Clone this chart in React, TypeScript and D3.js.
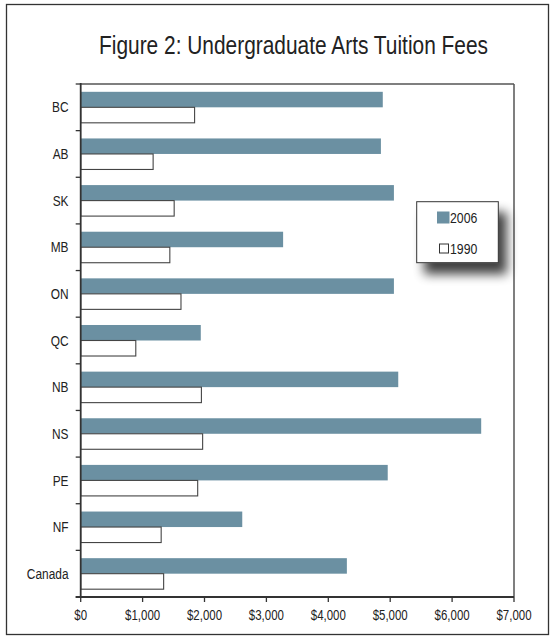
import React, { useEffect } from "react";
import * as d3 from "d3";

const categories = ["BC", "AB", "SK", "MB", "ON", "QC", "NB", "NS", "PE", "NF", "Canada"];
const fees2006 = [4880, 4850, 5060, 3270, 5060, 1940, 5130, 6470, 4960, 2610, 4300];
const fees1990 = [1840, 1170, 1510, 1440, 1620, 890, 1950, 1970, 1890, 1300, 1340];
const seriesNames = ["2006", "1990"];
const xTicks = [0, 1000, 2000, 3000, 4000, 5000, 6000, 7000];
const title = "Figure 2: Undergraduate Arts Tuition Fees";

const W = 556;
const H = 639;
const FONT = "'Liberation Sans', Arial, sans-serif";
const BLUE = "#6b90a2";
const NARROW = 0.82;

function NText(props: {
  x: number;
  y: number;
  size: number;
  anchor?: "start" | "middle" | "end";
  dy?: string;
  fill?: string;
  children: React.ReactNode;
}) {
  const { x, y, size, anchor = "start", dy = "0.35em", fill = "#222", children } = props;
  return (
    <text
      transform={`translate(${x},${y}) scale(${NARROW},1)`}
      textAnchor={anchor}
      fontSize={size}
      dy={dy}
      fill={fill}
    >
      {children}
    </text>
  );
}

export default function App() {
  useEffect(() => {
    document.body.style.margin = "0";
  }, []);

  const plot = { left: 80.7, right: 514, top: 84, bottom: 597 };
  const x = d3.scaleLinear().domain([0, 7000]).range([plot.left, plot.right]);
  const y = d3
    .scaleBand<string>()
    .domain(categories)
    .range([plot.top, plot.bottom])
    .paddingInner(0.335)
    .paddingOuter(0.1675);
  const inner = d3.scaleBand<string>().domain(seriesNames).range([0, y.bandwidth()]);
  const fmt = (v: number) => "$" + d3.format(",")(v);
  const step = y.step();
  const boundaries = d3.range(categories.length + 1).map((i) => plot.top + i * step);

  return (
    <svg width={W} height={H} style={{ display: "block" }} fontFamily={FONT}>
      <defs>
        <filter id="shadow" x="-30%" y="-30%" width="180%" height="200%">
          <feGaussianBlur in="SourceAlpha" stdDeviation="5.5" />
          <feOffset dx="8" dy="11" result="b" />
          <feComponentTransfer>
            <feFuncA type="linear" slope="0.75" />
          </feComponentTransfer>
          <feMerge>
            <feMergeNode />
            <feMergeNode in="SourceGraphic" />
          </feMerge>
        </filter>
      </defs>
      <rect x={0} y={0} width={W} height={H} fill="#fff" />
      <rect x={6.5} y={4.5} width={542} height={630} fill="none" stroke="#333" strokeWidth={1.3} />

      <NText x={99} y={54} size={25.5} dy="0" fill="#222">
        {title}
      </NText>

      {/* plot frame */}
      <line x1={plot.left} y1={plot.top} x2={plot.right} y2={plot.top} stroke="#555" strokeWidth={1.5} />
      <line x1={plot.right} y1={plot.top} x2={plot.right} y2={plot.bottom} stroke="#555" strokeWidth={1.5} />

      {categories.map((c, i) => {
        const y0 = y(c)!;
        return (
          <g key={c}>
            <rect
              x={x(0)}
              y={y0 + inner("2006")!}
              width={x(fees2006[i]) - x(0)}
              height={inner.bandwidth()}
              fill={BLUE}
            />
            <rect
              x={x(0)}
              y={y0 + inner("1990")!}
              width={x(fees1990[i]) - x(0)}
              height={inner.bandwidth()}
              fill="#fff"
              stroke="#444"
              strokeWidth={1.1}
            />
            <NText x={68.5} y={y0 + y.bandwidth() / 2} anchor="end" size={14.5}>
              {c}
            </NText>
          </g>
        );
      })}

      {/* y axis */}
      <line x1={plot.left} y1={plot.top - 1} x2={plot.left} y2={plot.bottom} stroke="#333" strokeWidth={1.8} />
      {boundaries.map((b, i) => (
        <line key={i} x1={plot.left - 5} y1={b} x2={plot.left} y2={b} stroke="#333" strokeWidth={1.3} />
      ))}

      {/* x axis */}
      <line x1={plot.left - 5} y1={plot.bottom} x2={plot.right} y2={plot.bottom} stroke="#333" strokeWidth={1.8} />
      {xTicks.map((t) => (
        <g key={t}>
          <line x1={x(t)} y1={plot.bottom} x2={x(t)} y2={plot.bottom + 5} stroke="#333" strokeWidth={1.3} />
          <NText x={x(t)} y={615} anchor="middle" size={14}>
            {fmt(t)}
          </NText>
        </g>
      ))}

      {/* legend */}
      <g>
        <rect x={416.7} y={201.7} width={81.6} height={61} fill="#fff" stroke="#333" strokeWidth={1} filter="url(#shadow)" />
        <rect x={437} y={211.5} width={12.5} height={12} fill={BLUE} />
        <NText x={450} y={217.5} size={15}>
          {seriesNames[0]}
        </NText>
        <rect x={439.5} y={244} width={9} height={9} fill="#fff" stroke="#333" strokeWidth={1} />
        <NText x={450} y={248.5} size={15}>
          {seriesNames[1]}
        </NText>
      </g>
    </svg>
  );
}
